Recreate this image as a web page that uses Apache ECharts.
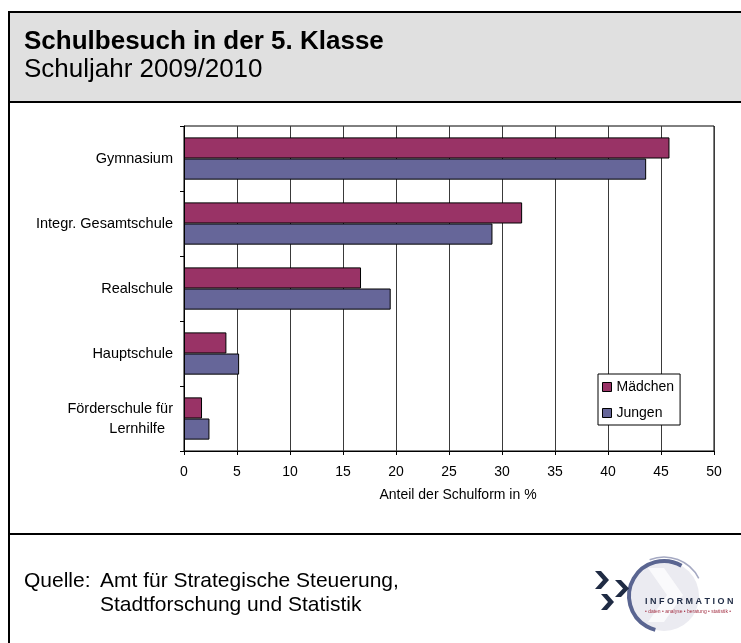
<!DOCTYPE html>
<html>
<head>
<meta charset="utf-8">
<script src="https://cdn.jsdelivr.net/npm/echarts@6/dist/echarts.min.js"></script>
<style>
  html, body { margin: 0; padding: 0; background: #fff; }
  #chart { width: 741px; height: 643px; }
</style>
</head>
<body>
<div id="chart"></div>
<script>
// Daten: Anteil der Schulform in %
var categories = ['Gymnasium', 'Integr. Gesamtschule', 'Realschule', 'Hauptschule', 'Förderschule für\nLernhilfe  '];
var maedchen = [45.8, 31.9, 16.7, 4.0, 1.7];
var jungen = [43.6, 29.1, 19.5, 5.2, 2.4];
var seriesNames = ['Mädchen', 'Jungen'];
var xMin = 0, xMax = 50, xStep = 5;

var FONT = '"Liberation Sans", Arial, sans-serif';
var chart = echarts.init(document.getElementById('chart'));

//////// Rahmen, Kopf, Fuss und Logo ////////
var frame = [
  { type: 'rect', shape: { x: 9, y: 12, width: 740, height: 90 }, style: { fill: '#e0e0e0', stroke: null } },
  { type: 'line', shape: { x1: 9, y1: 12, x2: 745, y2: 12 }, style: { stroke: '#000', lineWidth: 2 } },
  { type: 'line', shape: { x1: 9, y1: 11, x2: 9, y2: 650 }, style: { stroke: '#000', lineWidth: 2 } },
  { type: 'line', shape: { x1: 9, y1: 102, x2: 745, y2: 102 }, style: { stroke: '#000', lineWidth: 2 } },
  { type: 'line', shape: { x1: 9, y1: 534, x2: 745, y2: 534 }, style: { stroke: '#000', lineWidth: 2 } },
  { type: 'text', x: 24, y: 42, style: { text: 'Schulbesuch in der 5. Klasse', font: 'bold 26px ' + FONT, fill: '#000', verticalAlign: 'middle' } },
  { type: 'text', x: 24, y: 70, style: { text: 'Schuljahr 2009/2010', font: '26px ' + FONT, fill: '#000', verticalAlign: 'middle' } },
  { type: 'text', x: 24, y: 581, style: { text: 'Quelle:', font: '21px ' + FONT, fill: '#000', verticalAlign: 'middle' } },
  { type: 'text', x: 100, y: 581, style: { text: 'Amt für Strategische Steuerung,', font: '21px ' + FONT, fill: '#000', verticalAlign: 'middle' } },
  { type: 'text', x: 100, y: 605, style: { text: 'Stadtforschung und Statistik', font: '21px ' + FONT, fill: '#000', verticalAlign: 'middle' } }
];

var logo = [
  { type: 'circle', shape: { cx: 664, cy: 596, r: 35 }, style: { fill: '#ebebf1' } },
  { type: 'polygon', shape: { points: [[648, 568], [664, 568], [683, 595], [664, 622], [648, 622], [667, 595]] }, style: { fill: '#fafafc' } },
  { type: 'arc', shape: { cx: 664, cy: 596, r: 35, startAngle: -Math.PI / 3, endAngle: Math.PI / 2 + 0.25, clockwise: false }, style: { stroke: '#5a6591', lineWidth: 4, fill: null } },
  { type: 'arc', shape: { cx: 664, cy: 596, r: 39, startAngle: -Math.PI * 0.62, endAngle: -Math.PI * 0.15, clockwise: true }, style: { stroke: '#a5a9c2', lineWidth: 1.5, fill: null } },
  { type: 'polygon', shape: { points: [[595, 571], [601, 571], [609, 580], [601, 589], [595, 589], [603, 580]] }, style: { fill: '#1f2b44' } },
  { type: 'polygon', shape: { points: [[615, 580], [621, 580], [629, 588.5], [621, 597], [615, 597], [623, 588.5]] }, style: { fill: '#1f2b44' } },
  { type: 'polygon', shape: { points: [[601, 594], [607, 594], [614, 602], [607, 610], [601, 610], [608, 602]] }, style: { fill: '#1f2b44' } },
  { type: 'text', x: 645, y: 602, style: { text: 'I N F O R M A T I O N', font: 'bold 9px ' + FONT, fill: '#1f2b44', verticalAlign: 'middle' } },
  { type: 'text', x: 645, y: 612, style: { text: '• daten • analyse • beratung • statistik •', font: '5px ' + FONT, fill: '#a33044', verticalAlign: 'middle' } }
];

var option = {
  animation: false,
  backgroundColor: '#fff',
  textStyle: { fontFamily: FONT },
  graphic: frame.concat(logo),
  legend: {
    data: seriesNames,
    orient: 'vertical',
    left: 598,
    top: 374,
    padding: [6, 6, 5, 4],
    itemWidth: 9,
    itemHeight: 9,
    itemGap: 12,
    icon: 'rect',
    backgroundColor: '#fff',
    borderColor: '#000',
    borderWidth: 1,
    itemStyle: { borderColor: '#000', borderWidth: 1 },
    textStyle: { fontSize: 14, color: '#000', fontFamily: FONT }
  },
  grid: {
    left: 184, top: 126, width: 530, height: 325,
    show: true, borderColor: '#000', borderWidth: 1, backgroundColor: '#fff'
  },
  xAxis: {
    type: 'value',
    min: xMin, max: xMax, interval: xStep,
    name: 'Anteil der Schulform in %',
    nameLocation: 'middle',
    nameGap: 37,
    nameTextStyle: { fontSize: 14, color: '#000', fontFamily: FONT, padding: [0, 0, 0, 18] },
    axisLine: { show: true, lineStyle: { color: '#000', width: 1 } },
    axisTick: { show: true, length: 4, lineStyle: { color: '#000' } },
    axisLabel: { fontSize: 14, color: '#000', margin: 14, fontFamily: FONT },
    splitLine: { show: true, lineStyle: { color: '#3a3a3a', width: 1 } }
  },
  yAxis: {
    type: 'category',
    inverse: true,
    data: categories,
    axisLine: { show: true, lineStyle: { color: '#000', width: 1 } },
    axisTick: { show: true, length: 4, lineStyle: { color: '#000' } },
    axisLabel: { fontSize: 14.5, color: '#000', margin: 11, lineHeight: 20, fontFamily: FONT },
    splitLine: { show: false }
  },
  series: [
    {
      name: seriesNames[0],
      type: 'bar',
      data: maedchen,
      barGap: 0,
      barCategoryGap: '35%',
      itemStyle: { color: '#993366', borderColor: '#000', borderWidth: 1 }
    },
    {
      name: seriesNames[1],
      type: 'bar',
      data: jungen,
      barGap: 0,
      barCategoryGap: '35%',
      itemStyle: { color: '#666699', borderColor: '#000', borderWidth: 1 }
    }
  ]
};

chart.setOption(option);
</script>
</body>
</html>
